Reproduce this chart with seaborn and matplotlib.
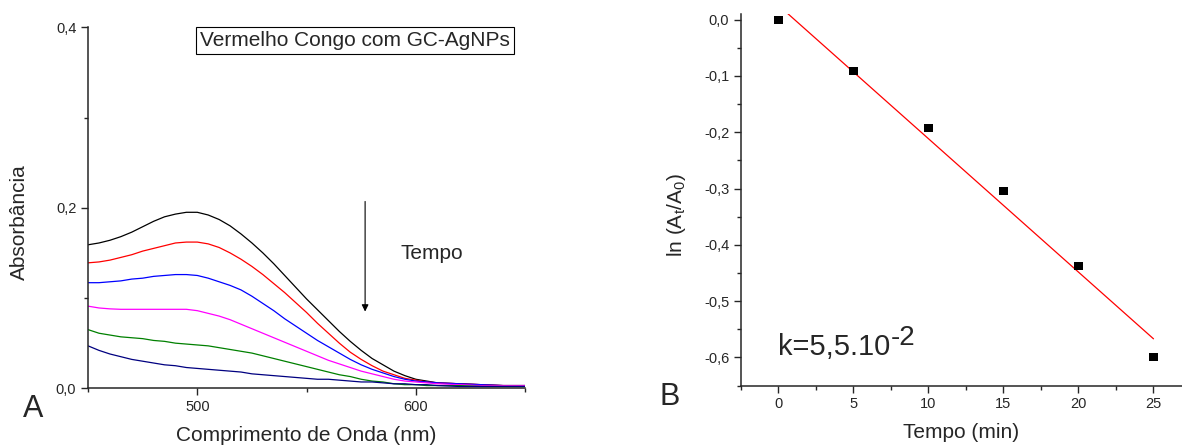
"""
UV-Vis spectra of Congo red with GC-AgNPs (A) and the kinetic plot (B).
"""

import matplotlib.pyplot as plt
import numpy as np
import pandas as pd
import seaborn as sns
from matplotlib.ticker import FuncFormatter, MultipleLocator

# panel A: absorbance spectra, one curve per time step
wavelength = [450, 455, 460, 465, 470, 475, 480, 485, 490, 495, 500, 505, 510,
              515, 520, 525, 530, 535, 540, 545, 550, 555, 560, 565, 570, 575,
              580, 585, 590, 595, 600, 605, 610, 620, 630, 640, 650]
abs_t0 = [0.159, 0.161, 0.164, 0.168, 0.173, 0.179, 0.185, 0.190, 0.193, 0.195, 0.195,
          0.192, 0.187, 0.180, 0.171, 0.161, 0.150, 0.138, 0.125, 0.112, 0.099, 0.087,
          0.075, 0.063, 0.052, 0.042, 0.033, 0.026, 0.019, 0.014, 0.010, 0.008, 0.006,
          0.005, 0.004, 0.003, 0.003]
abs_t1 = [0.139, 0.140, 0.142, 0.145, 0.148, 0.152, 0.155, 0.158, 0.161, 0.162, 0.162,
          0.160, 0.156, 0.150, 0.143, 0.135, 0.126, 0.116, 0.106, 0.095, 0.084, 0.072,
          0.061, 0.050, 0.040, 0.032, 0.025, 0.019, 0.015, 0.011, 0.009, 0.007, 0.006,
          0.005, 0.004, 0.003, 0.003]
abs_t2 = [0.117, 0.117, 0.118, 0.119, 0.121, 0.122, 0.124, 0.125, 0.126, 0.126, 0.125,
          0.122, 0.118, 0.114, 0.109, 0.102, 0.094, 0.086, 0.077, 0.069, 0.061, 0.053,
          0.046, 0.039, 0.032, 0.026, 0.021, 0.017, 0.013, 0.010, 0.008, 0.007, 0.006,
          0.005, 0.004, 0.003, 0.003]
abs_t3 = [0.091, 0.089, 0.088, 0.0875, 0.0875, 0.0875, 0.0875, 0.0875, 0.0875, 0.0875,
          0.086, 0.083, 0.080, 0.076, 0.071, 0.066, 0.061, 0.056, 0.051, 0.046, 0.041,
          0.036, 0.031, 0.027, 0.023, 0.019, 0.016, 0.013, 0.010, 0.008, 0.007, 0.006,
          0.005, 0.004, 0.003, 0.003, 0.003]
abs_t4 = [0.065, 0.061, 0.059, 0.057, 0.056, 0.055, 0.053, 0.052, 0.050, 0.049, 0.048,
          0.047, 0.045, 0.043, 0.041, 0.039, 0.036, 0.033, 0.030, 0.027, 0.024, 0.021,
          0.018, 0.015, 0.013, 0.010, 0.008, 0.007, 0.005, 0.004, 0.004, 0.003, 0.003,
          0.003, 0.002, 0.002, 0.002]
abs_t5 = [0.047, 0.042, 0.038, 0.035, 0.032, 0.030, 0.028, 0.026, 0.025, 0.023, 0.022,
          0.021, 0.020, 0.019, 0.018, 0.016, 0.015, 0.014, 0.013, 0.012, 0.011, 0.010,
          0.010, 0.009, 0.008, 0.007, 0.007, 0.006, 0.005, 0.005, 0.004, 0.004, 0.003,
          0.002, 0.002, 0.002, 0.002]
curve_colors = ["black", "#FF0000", "#0000FF", "#FF00FF", "#008000", "#000080"]

# panel B: ln(At/A0) vs time
tempo = [0, 5, 10, 15, 20, 25]
ln_ratio = [0.0, -0.092, -0.192, -0.304, -0.437, -0.600]


def comma(v, pos):
    s = f"{v:.1f}".replace(".", ",")
    return "0,0" if s == "-0,0" else s


def style_axis(ax):
    sns.despine(ax=ax)
    for side in ("left", "bottom"):
        ax.spines[side].set_linewidth(1.1)
    ax.tick_params(which="major", direction="out", length=5, width=1.0, labelsize=10.5)
    ax.tick_params(which="minor", direction="out", length=3, width=1.0)


def main() -> None:
    sns.set_style("ticks")
    plt.rcParams["font.family"] = ["Liberation Sans", "DejaVu Sans"]
    plt.rcParams["mathtext.fontset"] = "custom"
    plt.rcParams["mathtext.rm"] = "Liberation Sans"

    fig = plt.figure(figsize=(11.82, 4.48), dpi=100)
    ax1 = fig.add_axes([0.0745, 0.1333, 0.3697, 0.8058])
    ax2 = fig.add_axes([0.6269, 0.1395, 0.3731, 0.8292])

    # ---- panel A
    series = [abs_t0, abs_t1, abs_t2, abs_t3, abs_t4, abs_t5]
    spectra = pd.DataFrame({
        "wl": wavelength * len(series),
        "A": np.concatenate(series),
        "curve": np.repeat(np.arange(len(series)), len(wavelength)),
    })
    sns.lineplot(data=spectra, x="wl", y="A", hue="curve", palette=curve_colors,
                 linewidth=0.9, legend=False, ax=ax1)
    ax1.set_xlim(450, 650)
    ax1.set_ylim(0, 0.4)
    ax1.xaxis.set_major_locator(MultipleLocator(100))
    ax1.xaxis.set_minor_locator(MultipleLocator(50))
    ax1.yaxis.set_major_locator(MultipleLocator(0.2))
    ax1.yaxis.set_minor_locator(MultipleLocator(0.1))
    ax1.yaxis.set_major_formatter(FuncFormatter(comma))
    style_axis(ax1)
    ax1.set_xlabel("Comprimento de Onda (nm)", fontsize=15, va="top")
    ax1.set_ylabel("Absorbância", fontsize=15)
    ax1.xaxis.set_label_coords(0.5, -0.105)
    ax1.yaxis.set_label_coords(-0.135, 0.46)

    ax1.text(501.3, 0.385, "Vermelho Congo com GC-AgNPs", fontsize=15, va="center",
             bbox=dict(boxstyle="square,pad=0.2", fc="white", ec="black", lw=0.8))
    ax1.annotate("", xy=(576.8, 0.085), xytext=(576.8, 0.207),
                 arrowprops=dict(arrowstyle="-|>", color="black", lw=0.8,
                                 mutation_scale=10, shrinkA=0, shrinkB=0))
    ax1.text(592.8, 0.149, "Tempo", fontsize=15, va="center")

    # ---- panel B
    kin = pd.DataFrame({"t": tempo, "ln": ln_ratio})
    sns.regplot(data=kin, x="t", y="ln", scatter=False, ci=None, truncate=True,
                line_kws=dict(color="#FF0000", lw=0.9), ax=ax2)
    sns.scatterplot(data=kin, x="t", y="ln", marker="s", s=34, color="black",
                    edgecolor="none", ax=ax2, zorder=3)
    ax2.set_xlim(-2.5, 26.9)
    ax2.set_ylim(-0.65, 0.01)
    ax2.xaxis.set_major_locator(MultipleLocator(5))
    ax2.xaxis.set_minor_locator(MultipleLocator(2.5))
    ax2.yaxis.set_major_locator(MultipleLocator(0.1))
    ax2.yaxis.set_minor_locator(MultipleLocator(0.05))
    ax2.yaxis.set_major_formatter(FuncFormatter(comma))
    style_axis(ax2)
    ax2.set_xlabel("Tempo (min)", fontsize=15, va="top")
    ax2.set_ylabel(r"ln (A$\mathregular{_t}$/A$\mathregular{_0}$)", fontsize=15)
    ax2.xaxis.set_label_coords(0.5, -0.1)
    ax2.yaxis.set_label_coords(-0.12, 0.46)
    k_txt = ax2.text(0.0, -0.595, "k=5,5.10", fontsize=21, va="baseline")
    ax2.annotate("-2", xy=(1.0, 0.0), xycoords=k_txt, xytext=(0, 7),
                 textcoords="offset points", fontsize=20, va="bottom", ha="left")

    fig.text(0.0195, 0.069, "A", fontsize=22, va="baseline")
    fig.text(0.558, 0.096, "B", fontsize=22, va="baseline")

    fig.savefig("out.png", dpi=100)
    plt.close(fig)


if __name__ == "__main__":
    main()
